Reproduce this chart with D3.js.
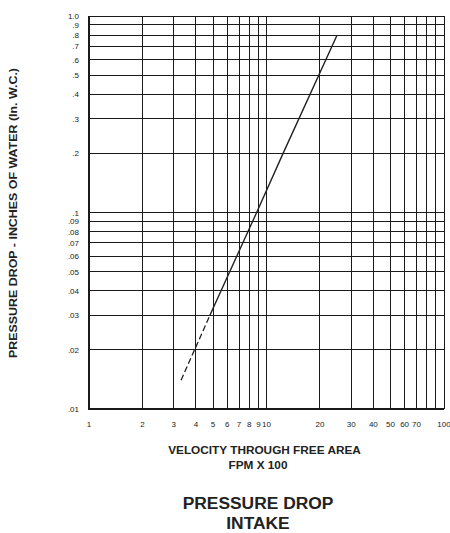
<!DOCTYPE html>
<html lang="en">
<head>
    <meta charset="UTF-8">
    <title>Pressure Drop Intake</title>
    <style>
        body {
            margin: 0;
            background: #fff;
            font-family: "Liberation Sans", Arial, sans-serif;
        }
        .grid line {
            stroke: #1a1a1a;
            stroke-width: 1;
            shape-rendering: crispEdges;
        }
        .tick-label {
            font-size: 8px;
            fill: #222;
        }
        .title {
            font-weight: bold;
            fill: #222;
        }
    </style>
</head>
<body>
    <svg id="chart" width="450" height="533"></svg>

    <script src="https://d3js.org/d3.v7.min.js"></script>
    <script>
        // grid / tick values
        const xGrid = [1, 2, 3, 4, 5, 6, 7, 8, 9, 10, 20, 30, 40, 50, 60, 70, 80, 90, 100];
        const xLabels = [1, 2, 3, 4, 5, 6, 7, 8, 9, 10, 20, 30, 40, 50, 60, 70, 100];
        const yGrid = [0.01, 0.02, 0.03, 0.04, 0.05, 0.06, 0.07, 0.08, 0.09,
                       0.1, 0.2, 0.3, 0.4, 0.5, 0.6, 0.7, 0.8, 0.9, 1.0];
        const yLabels = ['.01', '.02', '.03', '.04', '.05', '.06', '.07', '.08', '.09',
                         '.1', '.2', '.3', '.4', '.5', '.6', '.7', '.8', '.9', '1.0'];

        // curve (velocity FPM x 100, pressure in. w.c.)
        const dashedVelocity = [3.3, 4.8];
        const dashedPressure = [0.014, 0.03];
        const solidVelocity = [4.8, 8.8, 12.4, 25];
        const solidPressure = [0.03, 0.1, 0.2, 0.8];

        const svg = d3.select('#chart');
        const margin = { left: 89, right: 6, top: 16, bottom: 124 };
        const W = 450, H = 533;

        const x = d3.scaleLog().domain([1, 100]).range([margin.left, W - margin.right]);
        const y = d3.scaleLog().domain([0.01, 1]).range([H - margin.bottom, margin.top]);

        const grid = svg.append('g').attr('class', 'grid');
        grid.selectAll('.v').data(xGrid).enter().append('line')
            .attr('x1', d => x(d)).attr('x2', d => x(d))
            .attr('y1', y(1)).attr('y2', y(0.01));
        grid.selectAll('.h').data(yGrid).enter().append('line')
            .attr('y1', d => y(d)).attr('y2', d => y(d))
            .attr('x1', x(1)).attr('x2', x(100));

        // heavier frame on left and bottom
        svg.append('line')
            .attr('x1', x(1)).attr('x2', x(1)).attr('y1', y(1)).attr('y2', y(0.01) + 1)
            .attr('stroke', '#1a1a1a').attr('stroke-width', 2);
        svg.append('line')
            .attr('x1', x(1) - 1).attr('x2', x(100)).attr('y1', y(0.01)).attr('y2', y(0.01))
            .attr('stroke', '#1a1a1a').attr('stroke-width', 2);

        // tick labels
        svg.selectAll('.xl').data(xLabels).enter().append('text')
            .attr('class', 'tick-label')
            .attr('x', d => x(d)).attr('y', 427)
            .attr('text-anchor', 'middle')
            .text(d => d);
        svg.selectAll('.yl').data(yGrid).enter().append('text')
            .attr('class', 'tick-label')
            .attr('x', 79).attr('y', d => y(d) + 3)
            .attr('text-anchor', 'end')
            .text((d, i) => yLabels[i]);

        // curve
        const line = d3.line().x(d => x(d[0])).y(d => y(d[1]));
        svg.append('path')
            .datum(d3.zip(dashedVelocity, dashedPressure))
            .attr('d', line)
            .attr('fill', 'none').attr('stroke', '#222').attr('stroke-width', 1.3)
            .attr('stroke-dasharray', '6,3');
        svg.append('path')
            .datum(d3.zip(solidVelocity, solidPressure))
            .attr('d', line)
            .attr('fill', 'none').attr('stroke', '#222').attr('stroke-width', 1.4);

        // titles
        svg.append('text').attr('class', 'title')
            .attr('x', 264.5).attr('y', 454).attr('text-anchor', 'middle')
            .style('font-size', '11.8px')
            .text('VELOCITY THROUGH FREE AREA');
        svg.append('text').attr('class', 'title')
            .attr('x', 258).attr('y', 469).attr('text-anchor', 'middle')
            .style('font-size', '11.8px')
            .text('FPM X 100');
        svg.append('text').attr('class', 'title')
            .attr('x', 258).attr('y', 509).attr('text-anchor', 'middle')
            .style('font-size', '17.4px')
            .text('PRESSURE DROP');
        svg.append('text').attr('class', 'title')
            .attr('x', 258).attr('y', 529).attr('text-anchor', 'middle')
            .style('font-size', '17.4px')
            .text('INTAKE');
        svg.append('text').attr('class', 'title')
            .attr('transform', 'translate(17,213) rotate(-90)')
            .attr('text-anchor', 'middle')
            .attr('textLength', 290)
            .attr('lengthAdjust', 'spacingAndGlyphs')
            .style('font-size', '10px')
            .text('PRESSURE DROP - INCHES OF WATER (In. W.C.)');
    </script>
</body>
</html>
